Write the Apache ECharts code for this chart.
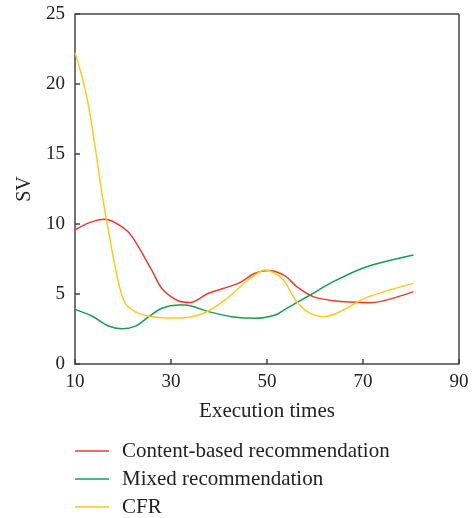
<!DOCTYPE html>
<html>
<head>
<meta charset="utf-8">
<script src="https://cdn.jsdelivr.net/npm/echarts@6/dist/echarts.min.js"></script>
<style>
html,body{margin:0;padding:0;background:#fff;}
#chart{width:474px;height:518px;}
</style>
</head>
<body>
<div id="chart"></div>
<script>
var seriesNames = ['Content-based recommendation', 'Mixed recommendation', 'CFR'];
var xTicks = [10, 30, 50, 70, 90];
var yTicks = [0, 5, 10, 15, 20, 25];

var contentX = [10, 13, 16.3, 19.8, 21.9, 26, 28.1, 31.6, 34, 37.8, 44, 47.5, 50.3, 53.75, 56.2, 59.6, 63.8, 67.5, 71.5, 80.5];
var contentY = [9.57, 10.1, 10.34, 9.8, 9.1, 6.7, 5.4, 4.5, 4.4, 5.05, 5.76, 6.48, 6.67, 6.29, 5.52, 4.81, 4.52, 4.42, 4.38, 5.17];

var mixedX = [10, 13.5, 17, 19.8, 22.6, 25.4, 28.1, 31.6, 33, 37.8, 42.6, 47.5, 51.7, 53.75, 59, 63.8, 70.8, 80.5];
var mixedY = [3.9, 3.43, 2.71, 2.52, 2.71, 3.38, 3.98, 4.21, 4.21, 3.74, 3.38, 3.26, 3.5, 3.9, 4.93, 5.88, 6.95, 7.79];

var cfrX = [10, 11.5, 12.85, 14.2, 15.6, 17.7, 19.1, 20.5, 23.3, 27.4, 31.6, 36.4, 41.25, 46.1, 49.6, 53.1, 56.2, 59, 62.1, 65.9, 70.8, 80.5];
var cfrY = [22.24, 20.5, 18.4, 15.5, 12.2, 8.14, 5.76, 4.33, 3.62, 3.33, 3.29, 3.57, 4.57, 6.0, 6.71, 6.12, 4.45, 3.62, 3.38, 3.86, 4.76, 5.76];

var colors = ['#ee3a2c', '#14a052', '#ffc91a'];
var font = 'Liberation Serif';

function pairs(xs, ys) { return xs.map(function (x, i) { return [x, ys[i]]; }); }

var chart = echarts.init(document.getElementById('chart'));
var legendTops = [440, 468, 496];
chart.setOption({
  animation: false,
  backgroundColor: '#fff',
  grid: { left: 75, right: 15, top: 14, bottom: 154, show: false },
  xAxis: {
    type: 'value', min: 10, max: 90, interval: 20,
    name: 'Execution times', nameLocation: 'middle', nameGap: 37,
    nameTextStyle: { fontFamily: font, fontSize: 21, color: '#222' },
    axisLine: { show: true, lineStyle: { color: '#444', width: 1.5 } },
    axisTick: { show: true, inside: true, length: 5, lineStyle: { color: '#444', width: 1.5 } },
    axisLabel: { fontFamily: font, fontSize: 19, color: '#222', margin: 9 },
    splitLine: { show: false }
  },
  yAxis: {
    type: 'value', min: 0, max: 25, interval: 5,
    name: 'SV', nameLocation: 'middle', nameGap: 40, nameRotate: 90,
    nameTextStyle: { fontFamily: font, fontSize: 20, color: '#222' },
    axisLine: { show: true, lineStyle: { color: '#444', width: 1.5 } },
    axisTick: { show: true, inside: true, length: 5, lineStyle: { color: '#444', width: 1.5 } },
    axisLabel: { fontFamily: font, fontSize: 19, color: '#222', margin: 10 },
    splitLine: { show: false }
  },
  legend: seriesNames.map(function (n, i) {
    return {
      data: [n], left: 75, top: legendTops[i], orient: 'vertical', padding: 0,
      icon: 'rect', itemWidth: 34, itemHeight: 1.5,
      textStyle: { fontFamily: font, fontSize: 21, color: '#222', lineHeight: 22, padding: [0, 0, 0, 8] }
    };
  }),
  graphic: [
    { type: 'line', shape: { x1: 459, y1: 14, x2: 459, y2: 364 }, style: { stroke: '#444', lineWidth: 1.5 } },
    { type: 'line', shape: { x1: 75, y1: 14, x2: 459, y2: 14 }, style: { stroke: '#444', lineWidth: 1.5 } }
  ],
  series: [
    { name: seriesNames[0], type: 'line', data: pairs(contentX, contentY), smooth: 0.3, showSymbol: false, lineStyle: { color: colors[0], width: 1.5 }, itemStyle: { color: colors[0] } },
    { name: seriesNames[1], type: 'line', data: pairs(mixedX, mixedY), smooth: 0.3, showSymbol: false, lineStyle: { color: colors[1], width: 1.5 }, itemStyle: { color: colors[1] } },
    { name: seriesNames[2], type: 'line', data: pairs(cfrX, cfrY), smooth: 0.3, showSymbol: false, lineStyle: { color: colors[2], width: 1.5 }, itemStyle: { color: colors[2] } }
  ]
});
</script>
</body>
</html>
